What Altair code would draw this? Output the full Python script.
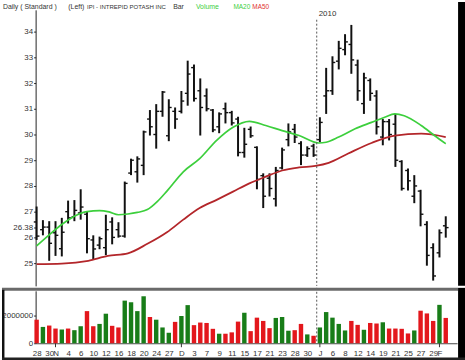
import altair as alt
import pandas as pd

# ---------------- data ----------------
day_idx = list(range(66))
opens = [26.6, 26.3, 26.4, 26.18, 25.56, 27.0, 26.8, 26.95, 26.9, 25.9,
         25.7, 25.6, 26.6, 26.3, 26.05, 28.5, 28.55, 28.8, 30.6, 30.0,
         30.9, 29.95, 30.9, 30.9, 31.6, 32.6, 31.7, 31.5, 30.95, 30.3,
         31.0, 30.85, 30.6, 29.3, 30.2, 29.5, 28.4, 28.3, 27.5, 28.7,
         29.8, 30.2, 29.65, 29.2, 29.55, 29.8, 31.5, 31.7, 32.85, 33.3,
         33.5, 32.7, 31.2, 32.1, 31.5, 29.9, 30.5, 30.4, 28.95, 28.6,
         27.6, 27.8, 26.5, 25.6, 25.4, 26.45]
highs = [27.2, 26.67, 26.63, 26.63, 26.76, 27.43, 27.45, 27.87, 27.0, 26.08,
         26.03, 26.88, 26.78, 26.59, 28.17, 29.06, 29.15, 30.15, 30.95, 31.18,
         31.69, 31.37, 31.05, 31.69, 32.87, 32.72, 32.18, 31.79, 30.99, 30.86,
         31.24, 30.92, 30.69, 30.26, 30.31, 29.54, 28.49, 28.49, 28.74, 29.49,
         30.43, 30.41, 29.74, 29.54, 29.64, 30.67, 32.59, 33.04, 33.64, 33.9,
         34.26, 32.91, 32.4, 32.18, 31.72, 30.6, 30.6, 30.8, 29.0, 28.68,
         28.42, 27.85, 26.63, 25.77, 26.31, 26.82]
lows = [25.9, 26.08, 25.09, 25.28, 25.26, 26.54, 26.63, 26.69, 25.38, 25.15,
        25.54, 25.31, 25.73, 25.99, 25.99, 28.42, 28.13, 28.42, 29.96, 29.45,
        30.69, 29.74, 30.22, 30.82, 31.12, 31.28, 29.96, 30.9, 30.09, 30.05,
        30.43, 30.35, 29.15, 29.1, 29.87, 27.87, 27.14, 27.59, 27.2, 28.64,
        29.54, 29.67, 28.81, 29.13, 29.13, 29.7, 30.8, 31.54, 32.53, 33.08,
        32.36, 31.31, 30.8, 31.31, 30.0, 29.58, 29.77, 28.74, 27.82, 27.82,
        27.33, 26.43, 24.9, 24.32, 25.22, 25.99]
closes = [26.05, 26.4, 25.77, 26.08, 26.2, 26.76, 27.05, 27.18, 25.95, 25.55,
          25.95, 26.3, 26.0, 26.05, 28.1, 29.0, 29.05, 30.1, 30.3, 30.9,
          31.65, 31.05, 30.6, 31.3, 32.35, 31.4, 31.05, 31.0, 30.18, 30.8,
          30.85, 30.45, 29.3, 29.62, 29.95, 28.25, 27.6, 27.9, 28.6, 29.4,
          30.1, 29.9, 29.2, 29.45, 29.2, 30.47, 31.7, 32.8, 33.35, 33.6,
          32.9, 31.7, 32.2, 31.6, 30.3, 30.5, 30.0, 29.0, 27.9, 28.2,
          28.0, 26.9, 25.3, 24.5, 26.18, 26.38]
volumes = [1730000, 1200000, 1300000, 1080000, 1010000, 1080000, 960000, 1250000, 2360000, 1250000,
           1420000, 2170000, 1280000, 1160000, 3130000, 3010000, 2360000, 3450000, 1930000, 1730000,
           1160000, 770000, 1570000, 2000000, 2800000, 1330000, 1520000, 1490000, 1060000, 700000,
           700000, 800000, 1590000, 2240000, 890000, 1880000, 1640000, 1110000, 1860000, 1930000,
           920000, 960000, 1420000, 650000, 550000, 1160000, 2290000, 1880000, 1420000, 940000,
           1640000, 1350000, 990000, 1490000, 1450000, 1540000, 1080000, 1080000, 1060000, 720000,
           940000, 2390000, 2190000, 1640000, 2820000, 1860000]
vol_dir = ["down", "up", "down", "down", "up", "down", "up", "up", "down", "down",
           "up", "up", "down", "down", "up", "up", "up", "up", "down", "up",
           "up", "up", "down", "up", "up", "down", "down", "down", "down", "up",
           "down", "down", "down", "up", "down", "down", "down", "down", "up", "up",
           "up", "down", "down", "up", "down", "up", "up", "up", "up", "up",
           "down", "down", "up", "down", "down", "up", "down", "down", "down", "down",
           "up", "down", "down", "down", "up", "down"]

ma20_idx = [0, 2, 4, 6, 8, 10, 11.5, 13, 14.5, 16, 17.6, 19.2, 20.7, 23.3, 25.9, 28.6,
            31.2, 33.8, 36.4, 39, 41.7, 44.8, 46, 48, 50.6, 53.2, 55.3, 56.9, 58.4, 61.1, 63.2, 65]
ma20_val = [25.67, 26.1, 26.5, 26.82, 27.0, 27.04, 26.99, 26.88, 26.91, 26.97, 27.08, 27.4,
            27.8, 28.55, 29.06, 29.77, 30.28, 30.51, 30.35, 30.15, 29.96, 29.67, 29.7, 29.9,
            30.22, 30.47, 30.67, 30.8, 30.73, 30.35, 29.96, 29.64]
ma50_idx = [0, 4, 8.2, 11.3, 14.5, 17.6, 20.7, 23.3, 25.9, 28.6, 31.2, 33.8, 36.4, 39,
            41.7, 44.3, 46.4, 49.5, 53.2, 56.9, 61.1, 65]
ma50_val = [24.96, 24.98, 25.09, 25.28, 25.38, 25.75, 26.2, 26.69, 27.14, 27.46, 27.78,
            28.1, 28.36, 28.6, 28.72, 28.78, 28.9, 29.26, 29.67, 29.96, 30.03, 29.9]

tick_idx = [0, 2, 3, 5, 7, 9, 11, 13, 15, 17, 19, 21, 23, 25, 27, 29, 31, 33, 35, 37,
            39, 41, 43, 45, 47, 49, 51, 53, 55, 57, 59, 61, 63, 64]
tick_text = ["28", "30", "N", "4", "6", "10", "12", "16", "18", "20", "24", "27", "D", "3",
             "7", "9", "11", "15", "17", "21", "23", "28", "30", "J", "6", "8", "12", "14",
             "19", "21", "25", "27", "29", "F"]
month_idx = [3, 23, 45, 64]
year_pos = [44.5]
year_text = ["2010"]
price_ticks = [25, 26, 26.38, 27, 28, 29, 30, 31, 32, 33, 34]
volume_ticks = [0, 2000000]

# ---------------- layout / style ----------------
W = 426
HP = 279
HV = 53
FONT = "Liberation Sans"
GREEN_MA = "#3ccf3c"
RED_MA = "#b3262a"

df = pd.DataFrame({"i": day_idx, "open": opens, "high": highs, "low": lows,
                   "close": closes, "volume": volumes, "dir": vol_dir})
ma20 = pd.DataFrame({"i": ma20_idx, "v": ma20_val})
ma50 = pd.DataFrame({"i": ma50_idx, "v": ma50_val})
years = pd.DataFrame({"i": year_pos, "t": year_text})
months = pd.DataFrame({"i": month_idx})
one = pd.DataFrame({"a": [0]})

xs = alt.Scale(domain=[-0.16, 66.8], nice=False, zero=False)
ys = alt.Scale(domain=[24.115, 34.846], nice=False, zero=False)
vs = alt.Scale(domain=[0, 3850000], nice=False)

axis_style = dict(domainColor="#222", tickColor="#222", tickSize=2, labelFontSize=8,
                  labelColor="#333", labelFont=FONT, labelPadding=1, grid=False, title=None)
price_axis = alt.Axis(values=price_ticks, labelExpr="format(datum.value, '~g')",
                      labelOverlap=False, **axis_style)

label_expr = " : ".join(f"datum.value == {i} ? '{t}'" for i, t in zip(tick_idx, tick_text)) + " : ''"
vol_x_axis = alt.Axis(values=tick_idx, labelExpr=label_expr, labelOverlap=False, ticks=False,
                      domainColor="#444", labelFontSize=8, labelColor="#333", labelFont=FONT,
                      labelPadding=6, grid=False, title=None)

base = alt.Chart(df)

hl = base.mark_rule(color="#111", strokeWidth=2).encode(
    x=alt.X("i:Q", scale=xs, axis=None),
    y=alt.Y("low:Q", scale=ys, axis=price_axis),
    y2="high:Q",
)
op = base.transform_calculate(xl="datum.i - 0.45").mark_rule(color="#111", strokeWidth=1.4).encode(
    x=alt.X("xl:Q", scale=xs, axis=None), x2="i:Q",
    y=alt.Y("open:Q", scale=ys, axis=price_axis),
)
cl = base.transform_calculate(xr="datum.i + 0.45").mark_rule(color="#111", strokeWidth=1.4).encode(
    x=alt.X("i:Q", scale=xs, axis=None), x2="xr:Q",
    y=alt.Y("close:Q", scale=ys, axis=price_axis),
)
l20 = alt.Chart(ma20).mark_line(color=GREEN_MA, strokeWidth=1.7, interpolate="monotone").encode(
    x=alt.X("i:Q", scale=xs, axis=None), y=alt.Y("v:Q", scale=ys, axis=price_axis))
l50 = alt.Chart(ma50).mark_line(color=RED_MA, strokeWidth=1.8, interpolate="monotone").encode(
    x=alt.X("i:Q", scale=xs, axis=None), y=alt.Y("v:Q", scale=ys, axis=price_axis))

yr_rule = alt.Chart(years).mark_rule(color="#555", strokeWidth=1, strokeDash=[2, 2]).encode(
    x=alt.X("i:Q", scale=xs, axis=None), y=alt.value(10), y2=alt.value(HP))
yr_text = alt.Chart(years).mark_text(align="left", baseline="middle", dx=2, fontSize=8,
                                     font=FONT, color="#333").encode(
    x=alt.X("i:Q", scale=xs, axis=None), y=alt.value(4), text="t:N")


def label(txt, xpos, color, size=7):
    return alt.Chart(one).mark_text(align="left", baseline="middle", fontSize=size,
                                    font=FONT, color=color).encode(
        x=alt.value(xpos), y=alt.value(-3), text=alt.value(txt))


titles = [label("Daily ( Standard )", -33, "#333"), label("(Left)", 33, "#333"),
          label("IPI - INTREPID POTASH INC", 52, "#333", 6.1), label("Bar", 139, "#333"),
          label("Volume", 162, GREEN_MA), label("MA20", 200, GREEN_MA, 6.5),
          label("MA50", 219, "#e03030", 6.5)]

edge_p = alt.Chart(one).mark_rect(color="#000").encode(
    x=alt.value(W + 1), x2=alt.value(W + 8), y=alt.value(-8), y2=alt.value(HP))

price = alt.layer(hl, op, cl, l50, l20, yr_rule, yr_text, *titles, edge_p).properties(
    width=W, height=HP)

# volume panel
vbars = base.transform_calculate(xl="datum.i - 0.35", xr="datum.i + 0.35").mark_bar().encode(
    x=alt.X("xl:Q", scale=xs, axis=vol_x_axis),
    x2="xr:Q",
    y=alt.Y("volume:Q", scale=vs,
            axis=alt.Axis(values=volume_ticks, format="d", labelOverlap=False, **axis_style)),
    y2=alt.datum(0),
    color=alt.Color("dir:N", scale=alt.Scale(domain=["down", "up"], range=["#e3171c", "#187d18"]),
                    legend=None),
)
vyr = alt.Chart(years).mark_rule(color="#555", strokeWidth=1, strokeDash=[2, 2]).encode(
    x=alt.X("i:Q", scale=xs, axis=vol_x_axis), y=alt.value(-3), y2=alt.value(HV))
mticks = alt.Chart(months).mark_rule(color="#333", strokeWidth=1).encode(
    x=alt.X("i:Q", scale=xs, axis=vol_x_axis), y=alt.value(HV), y2=alt.value(HV + 4))
sep = alt.Chart(one).mark_rule(color="#6a6a6a", strokeWidth=3).encode(
    x=alt.value(-34), x2=alt.value(W + 1), y=alt.value(-1.5))
edge_v = alt.Chart(one).mark_rect(color="#000").encode(
    x=alt.value(W + 1), x2=alt.value(W + 8), y=alt.value(-3), y2=alt.value(HV + 17))
edge_l = alt.Chart(one).mark_rect(color="#111").encode(
    x=alt.value(-34), x2=alt.value(-31.5), y=alt.value(-1), y2=alt.value(HV + 17))
edge_b = alt.Chart(one).mark_rect(color="#222").encode(
    x=alt.value(-34), x2=alt.value(W + 8), y=alt.value(HV + 14.5), y2=alt.value(HV + 17))

volume = alt.layer(vbars, vyr, mticks, sep, edge_v, edge_l, edge_b).properties(width=W, height=HV)

chart = alt.vconcat(price, volume, spacing=0).properties(
    padding={"left": 0, "top": 0, "right": 0, "bottom": 0},
    background="white",
).configure_view(stroke=None)

chart.save("out.html", embed_options={"renderer": "svg", "actions": False})
